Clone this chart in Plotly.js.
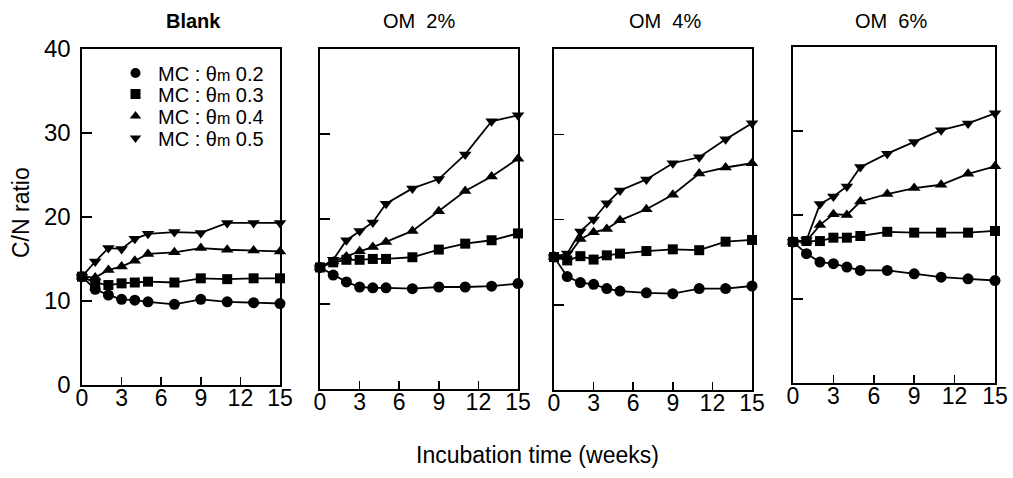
<!DOCTYPE html>
<html>
<head>
<meta charset="utf-8">
<script src="https://cdn.plot.ly/plotly-3.0.1.min.js"></script>
<style>html,body{margin:0;padding:0;background:#fff;}</style>
</head>
<body>
<div id="chart" style="width:1013px;height:478px;"></div>
<script>
// Incubation time (weeks)
const weeks = [0, 1, 2, 3, 4, 5, 7, 9, 11, 13, 15];
const xTicks = [0, 3, 6, 9, 12, 15];
const yTicks = [0, 10, 20, 30, 40];
const panelTitles = ['<b>Blank</b>', 'OM  2%', 'OM  4%', 'OM  6%'];
const seriesNames = ['MC : θ<span style="font-size:16px">m</span> 0.2',
                     'MC : θ<span style="font-size:16px">m</span> 0.3',
                     'MC : θ<span style="font-size:16px">m</span> 0.4',
                     'MC : θ<span style="font-size:16px">m</span> 0.5'];

// C/N ratio — Blank
const blank_02 = [12.9, 11.4, 10.7, 10.2, 10.1, 9.9, 9.6, 10.2, 9.9, 9.8, 9.7];
const blank_03 = [12.9, 12.2, 11.9, 12.1, 12.2, 12.3, 12.2, 12.7, 12.6, 12.7, 12.7];
const blank_04 = [12.9, 12.8, 13.7, 14.1, 14.8, 15.6, 15.8, 16.3, 16.1, 16.0, 15.9];
const blank_05 = [12.9, 14.7, 16.3, 16.2, 17.4, 18.0, 18.2, 18.1, 19.3, 19.3, 19.3];
// OM 2%
const om2_02 = [14.3, 13.4, 12.6, 12.0, 11.9, 11.9, 11.8, 12.0, 12.0, 12.1, 12.4];
const om2_03 = [14.3, 14.9, 15.2, 15.2, 15.3, 15.3, 15.5, 16.4, 17.1, 17.5, 18.3];
const om2_04 = [14.3, 15.0, 15.6, 16.2, 16.7, 17.3, 18.6, 20.9, 23.3, 25.0, 27.1];
const om2_05 = [14.3, 15.2, 17.5, 18.6, 19.6, 21.8, 23.6, 24.7, 27.6, 31.5, 32.2];
// OM 4%
const om4_02 = [15.6, 13.3, 12.6, 12.4, 11.9, 11.6, 11.4, 11.3, 11.9, 11.9, 12.2];
const om4_03 = [15.6, 15.2, 15.7, 15.3, 15.8, 16.0, 16.3, 16.5, 16.4, 17.4, 17.6];
const om4_04 = [15.6, 15.6, 17.7, 18.5, 18.9, 19.9, 21.2, 22.9, 25.4, 26.1, 26.6];
const om4_05 = [15.6, 16.0, 18.6, 20.0, 21.9, 23.4, 24.7, 26.6, 27.3, 29.4, 31.3];
// OM 6%
const om6_02 = [16.8, 15.4, 14.4, 14.2, 13.8, 13.4, 13.4, 13.0, 12.6, 12.4, 12.2];
const om6_03 = [16.8, 16.9, 16.9, 17.3, 17.3, 17.5, 18.0, 17.9, 17.9, 17.9, 18.1];
const om6_04 = [16.8, 16.9, 18.8, 20.1, 20.0, 21.6, 22.5, 23.2, 23.6, 24.9, 25.8];
const om6_05 = [16.8, 17.0, 21.3, 22.2, 23.4, 25.7, 27.3, 28.7, 30.1, 30.9, 32.1];

const panels = [
  [blank_02, blank_03, blank_04, blank_05],
  [om2_02, om2_03, om2_04, om2_05],
  [om4_02, om4_03, om4_04, om4_05],
  [om6_02, om6_03, om6_04, om6_05]
];
const symbols = ['circle', 'square', 'triangle-up', 'triangle-down'];
const sizes = [11, 10, 11, 11];

const W = 1013, H = 478;
// panel boxes in pixels [left, right, top, bottom]
const boxes = [[82, 280, 49, 385], [320, 518, 49, 389], [554, 752, 49, 390], [793, 995, 47, 383]];
const titleX = [193, 419, 665, 891];
const legendRowsY = [73, 94, 116, 138];

const FONT = 'Liberation Sans, Arial, sans-serif';
const traces = [];
panels.forEach((p, i) => {
  const xa = i === 0 ? 'x' : 'x' + (i + 1);
  const ya = i === 0 ? 'y' : 'y' + (i + 1);
  p.forEach((vals, s) => {
    traces.push({
      x: weeks, y: vals, xaxis: xa, yaxis: ya,
      mode: 'lines+markers', type: 'scatter', cliponaxis: false,
      line: {color: '#000', width: 1.8},
      marker: {symbol: symbols[s], size: sizes[s], color: '#000'},
      showlegend: false, hoverinfo: 'skip'
    });
  });
});
// legend entries (marker only), one legend per row for exact spacing
seriesNames.forEach((nm, s) => {
  traces.push({
    x: [null], y: [null], xaxis: 'x', yaxis: 'y', mode: 'markers', type: 'scatter',
    name: nm, marker: {symbol: symbols[s], size: 10, color: '#000'}, showlegend: true,
    legend: s === 0 ? 'legend' : 'legend' + (s + 1)
  });
});

const layout = {
  width: W, height: H,
  margin: {l: 0, r: 0, t: 0, b: 0},
  paper_bgcolor: '#fff', plot_bgcolor: '#fff',
  font: {family: FONT, color: '#000'},
  showlegend: true,
  annotations: []
};
legendRowsY.forEach((yy, s) => {
  layout[s === 0 ? 'legend' : 'legend' + (s + 1)] = {
    x: 113 / W, y: 1 - yy / H, xanchor: 'left', yanchor: 'middle',
    bgcolor: 'rgba(0,0,0,0)', font: {size: 20, family: FONT, color: '#000'},
    itemwidth: 35
  };
});
boxes.forEach((b, i) => {
  const sfx = i === 0 ? '' : String(i + 1);
  layout['xaxis' + sfx] = {
    domain: [b[0] / W, b[1] / W], range: [0, 15], anchor: 'y' + sfx,
    tickmode: 'array', tickvals: xTicks, ticktext: xTicks.map(String),
    ticks: 'inside', ticklen: 8, tickwidth: 1.5, tickcolor: '#000',
    showline: true, mirror: true, linecolor: '#000', linewidth: 1.6,
    showgrid: false, zeroline: false, fixedrange: true,
    ticklabelstandoff: -8,
    tickfont: {size: 23, family: FONT, color: '#000'}
  };
  layout['yaxis' + sfx] = {
    domain: [1 - b[3] / H, 1 - b[2] / H], range: [0, 40], anchor: 'x' + sfx,
    tickmode: 'array', tickvals: yTicks, ticktext: yTicks.map(String),
    ticks: 'inside', ticklen: 10, tickwidth: 1.5, tickcolor: '#000',
    showline: true, mirror: true, linecolor: '#000', linewidth: 1.6,
    showgrid: false, zeroline: false, fixedrange: true,
    showticklabels: i === 0, ticklabelstandoff: 5,
    tickfont: {size: 24, family: FONT, color: '#000'}
  };
  layout.annotations.push({
    text: panelTitles[i], xref: 'paper', yref: 'paper',
    x: titleX[i] / W, y: 1 - 21 / H, xanchor: 'center', yanchor: 'middle',
    showarrow: false, font: {size: 20, family: FONT, color: '#000'}
  });
});
layout.annotations.push({
  text: 'Incubation time (weeks)', xref: 'paper', yref: 'paper',
  x: 537 / W, y: 1 - 455 / H, xanchor: 'center', yanchor: 'middle',
  showarrow: false, font: {size: 23, family: FONT, color: '#000'}
});
layout.annotations.push({
  text: 'C/N ratio', xref: 'paper', yref: 'paper', textangle: -90,
  x: 21 / W, y: 1 - 213 / H, xanchor: 'center', yanchor: 'middle',
  showarrow: false, font: {size: 23, family: FONT, color: '#000'}
});

Plotly.newPlot('chart', traces, layout, {staticPlot: true, displayModeBar: false});
</script>
</body>
</html>
